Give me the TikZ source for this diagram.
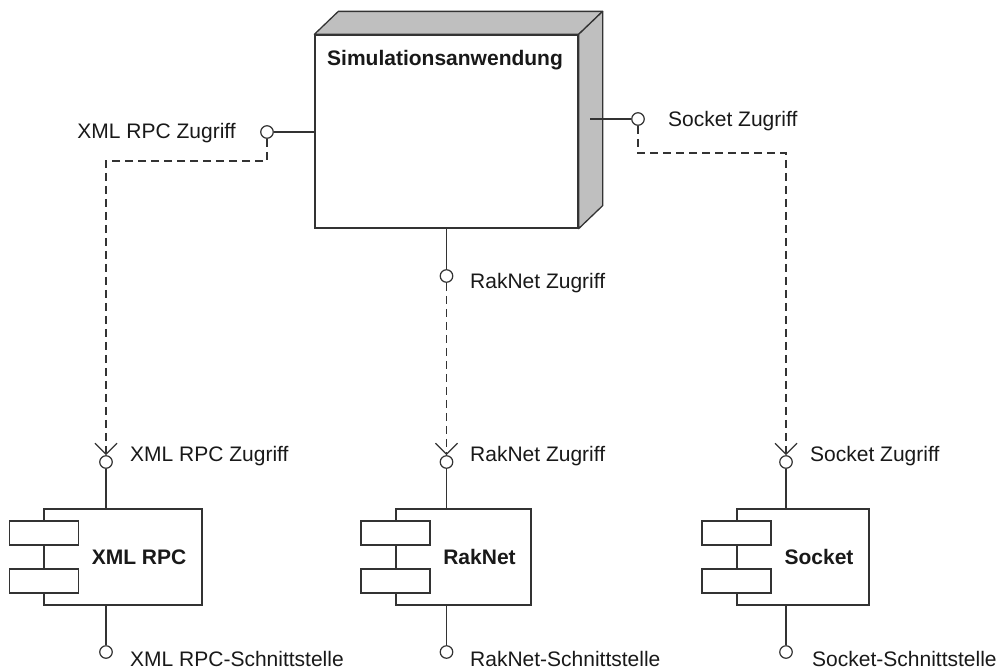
\documentclass[tikz,border=0pt]{standalone}
\usepackage{fontspec}
\setmainfont{Liberation Sans}
\usepackage{tikz}
\usetikzlibrary{arrows.meta}
\definecolor{boxgray}{rgb}{.75,.75,.75}
\definecolor{linegray}{rgb}{.2,.2,.2}
\tikzset{
	every node/.style={font=\fontsize{21}{25}\selectfont, text=black!90},
	wire/.style={draw=linegray, line width=1.3pt},
	port/.style={circle, draw=linegray, fill=white, line width=1.2pt, minimum size=12.5pt, inner sep=0pt},
	comp/.style={rectangle, draw=linegray, fill=white, line width=1.3pt, minimum height=96pt, inner sep=0pt},
	plug/.style={rectangle, draw=linegray, fill=white, line width=1.3pt, minimum width=69pt, minimum height=24pt, inner sep=0pt},
	cname/.style={font=\fontsize{21}{25}\selectfont\bfseries, inner sep=0pt},
	lbl/.style={anchor=west, inner sep=0pt},
	req/.style={wire, dash pattern=on 8pt off 5pt, -{Straight Barb[length=11pt,width=22pt]}},
}

\begin{document}
\begin{tikzpicture}[x=1pt, y=-1pt]
		  \useasboundingbox (0,0) rectangle (998,670);

		  % Knoten Simulationsanwendung (3D-Box)
		  \node[rectangle, draw=linegray, fill=white, line width=1.3pt, minimum width=263pt, minimum height=193pt, inner sep=0pt] (app) at (446.5,131.5) {};
		  \filldraw[fill=boxgray, draw=linegray, line width=1.3pt, line join=round]
		    (app.north west) -- ++(24,-23) -- ([shift={(24,-23)}]app.north east) -- (app.north east) -- cycle;
		  \filldraw[fill=boxgray, draw=linegray, line width=1.3pt, line join=round]
		    (app.north east) -- ++(24,-23) -- ([shift={(24,-23)}]app.south east) -- (app.south east) -- cycle;
		  \node[lbl, font=\fontsize{21}{25}\selectfont\bfseries] (apptitle) at (327,60) {Simulationsanwendung};

		  % Schnittstellen der Anwendung
		  \coordinate (appSide) at (590,119);
		  \node[port] (appXml) at (267,132) {};
		  \node[port] (appRak) at (446.5,276) {};
		  \node[port] (appSock) at (638,119) {};
		  \draw[wire] (app.west |- appXml) -- (appXml);
		  \draw[wire] (app.south) -- (appRak);
		  \draw[wire] (appSide) -- (appSock);

		  % Komponenten
		  \node[comp, minimum width=158pt] (xmlrpc) at (123,557) {};
		  \node[comp, minimum width=135pt] (raknet) at (463.5,557) {};
		  \node[comp, minimum width=132pt] (socket) at (803,557) {};
		  \node[plug] (xmlrpcP1) at ([xshift=0.5pt, yshift=24pt]xmlrpc.west) {};
		  \node[plug] (xmlrpcP2) at ([xshift=0.5pt, yshift=-24pt]xmlrpc.west) {};
		  \node[plug] (raknetP1) at ([yshift=24pt]raknet.west) {};
		  \node[plug] (raknetP2) at ([yshift=-24pt]raknet.west) {};
		  \node[plug] (socketP1) at ([yshift=24pt]socket.west) {};
		  \node[plug] (socketP2) at ([yshift=-24pt]socket.west) {};
		  \node[cname] (xmlrpcName) at ([xshift=16pt]xmlrpc.center) {XML RPC};
		  \node[cname] (raknetName) at ([xshift=16pt]raknet.center) {RakNet};
		  \node[cname] (socketName) at ([xshift=16pt]socket.center) {Socket};

		  % benoetigte und angebotene Schnittstellen
		  \node[port] (xmlIn) at (106,462) {};
		  \node[port] (rakIn) at (446.5,462) {};
		  \node[port] (sockIn) at (786,462) {};
		  \node[port] (xmlOut) at (106,652) {};
		  \node[port] (rakOut) at (446.5,652) {};
		  \node[port] (sockOut) at (786,652) {};
		  \draw[wire] (xmlIn) -- (xmlIn |- xmlrpc.north);
		  \draw[wire] (rakIn) -- (rakIn |- raknet.north);
		  \draw[wire] (sockIn) -- (sockIn |- socket.north);
		  \draw[wire] (xmlrpc.south -| xmlOut) -- (xmlOut);
		  \draw[wire] (raknet.south -| rakOut) -- (rakOut);
		  \draw[wire] (socket.south -| sockOut) -- (sockOut);

		  % Abhaengigkeiten (gestrichelt)
		  \draw[req] (appXml.south) -- ++(0,22) -| (xmlIn.north);
		  \draw[req] (appRak.south) -- (rakIn.north);
		  \draw[req] (appSock.south) -- ++(0,27) -| (sockIn.north);

		  % Beschriftungen
		  \node[lbl, anchor=east] (lXmlApp) at (236,133) {XML RPC Zugriff};
		  \node[lbl] (lRakApp) at (470,283) {RakNet Zugriff};
		  \node[lbl] (lSockApp) at (668,121) {Socket Zugriff};
		  \node[lbl] (lXmlIn) at (130,456) {XML RPC Zugriff};
		  \node[lbl] (lRakIn) at (470,456) {RakNet Zugriff};
		  \node[lbl] (lSockIn) at (810,456) {Socket Zugriff};
		  \node[lbl] (lXmlOut) at (130,659) {XML RPC-Schnittstelle};
		  \node[lbl] (lRakOut) at (470,659) {RakNet-Schnittstelle};
		  \node[lbl] (lSockOut) at (812,659) {Socket-Schnittstelle};
		\end{tikzpicture}
\end{document}
